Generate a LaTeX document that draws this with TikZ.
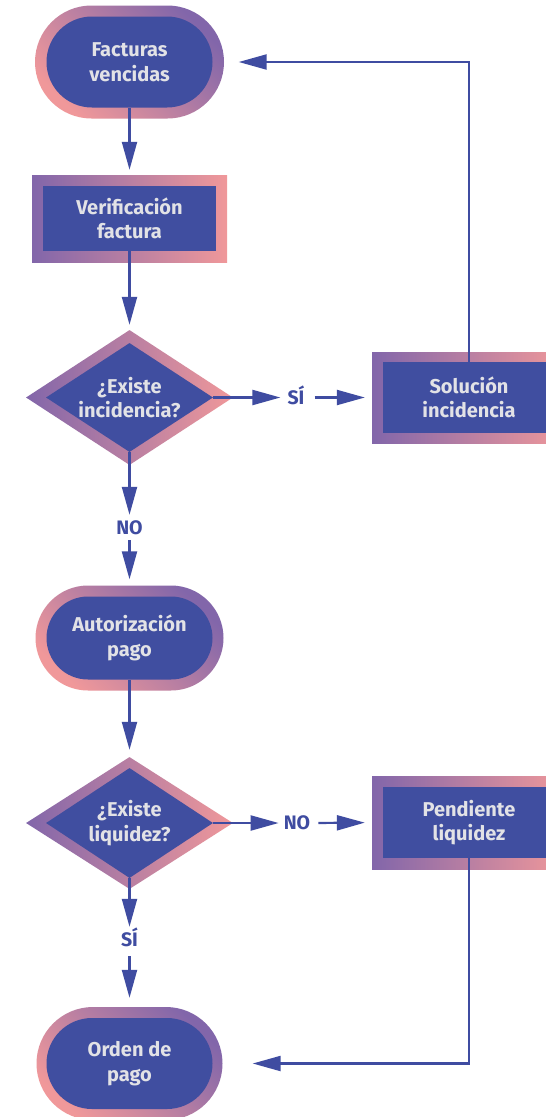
\documentclass[tikz,border=0pt]{standalone}
\usepackage{fontspec}
\setmainfont{Fira Sans}
\usetikzlibrary{shapes.geometric,arrows.meta}
\definecolor{boxblue}{HTML}{404EA0}
\definecolor{lineblue}{HTML}{3F4CA1}
\definecolor{purp}{HTML}{8266AA}
\definecolor{rosa}{HTML}{F0989A}
\definecolor{txt}{HTML}{E2E2E6}

\begin{document}
\begin{tikzpicture}[x=1pt,y=-1pt,
  txtstyle/.style={font=\fontsize{20}{24.5}\selectfont\bfseries, text=txt, align=center},
  pill/.style={rectangle, fill=boxblue, inner sep=0pt, txtstyle},
  pillrim/.style={rectangle, inner sep=0pt, top color=purp, bottom color=rosa, shading angle=-45},
  box/.style={rectangle, fill=boxblue, inner sep=0pt, txtstyle},
  boxrim/.style={rectangle, inner sep=0pt, left color=purp, right color=rosa},
  decision/.style={diamond, fill=boxblue, inner sep=0pt},
  decisionrim/.style={diamond, inner sep=0pt, left color=purp, right color=rosa},
  flow/.style={draw=lineblue, line width=2.2pt, -{Triangle[length=28pt,width=15pt]}},
  answer/.style={font=\fontsize{19.5}{22}\selectfont\bfseries, text=lineblue, inner sep=0pt,
                 text height=13pt, text depth=0pt}
]
\path[use as bounding box, fill=white] (0,0) rectangle (546,1117);

% start: invoices due
\node[pillrim, minimum width=189pt, minimum height=113pt, rounded corners=56.5pt] (f1rim) at (129.5,62) {};
\node[pill, minimum width=166pt, minimum height=91pt, rounded corners=45.5pt] (f1) at (129.5,62) {Facturas\\vencidas};

% check
\node[boxrim, minimum width=195pt, minimum height=87pt] (verrim) at (129.5,218.5) {};
\node[box, minimum width=173pt, minimum height=65pt] (ver) at (129.5,218.5) {Verificación\\factura};

% first decision
\node[decisionrim, minimum width=207pt, minimum height=135pt] (d1rim) at (129.5,397.5) {};
\node[decision, minimum width=167pt, minimum height=109pt,
      label={[txtstyle]center:{¿Existe\\incidencia?}}] (d1) at (129.5,397.5) {};

% fix the issue
\node[boxrim, minimum width=194pt, minimum height=91pt] (solrim) at (469,397.5) {};
\node[box, minimum width=172pt, minimum height=71pt] (sol) at (469,397.5) {Solución\\incidencia};

% authorisation
\node[pillrim, minimum width=188pt, minimum height=105pt, rounded corners=52.5pt] (autrim) at (129.5,638) {};
\node[pill, minimum width=166pt, minimum height=83pt, rounded corners=41.5pt] (aut) at (129.5,638) {Autorización\\pago};

% second decision
\node[decisionrim, minimum width=207pt, minimum height=132pt] (d2rim) at (129.5,823) {};
\node[decision, minimum width=167pt, minimum height=110pt,
      label={[txtstyle]center:{¿Existe\\liquidez?}}] (d2) at (129.5,823) {};

% pending
\node[boxrim, minimum width=194pt, minimum height=93pt] (penrim) at (469,822.5) {};
\node[box, minimum width=172pt, minimum height=71pt] (pen) at (469,822.5) {Pendiente\\liquidez};

% payment order
\node[pillrim, minimum width=186pt, minimum height=113pt, rounded corners=56.5pt] (ordrim) at (129.5,1063.5) {};
\node[pill, minimum width=166pt, minimum height=91pt, rounded corners=45.5pt] (ord) at (129.5,1063.5) {Orden de\\pago};

% branch labels
\node[answer] (l1) at (296,397.5) {SÍ};
\node[answer] (l2) at (129.5,528) {NO};
\node[answer] (l3) at (297,823) {NO};
\node[answer] (l4) at (129.5,940) {SÍ};

% connectors
\draw[flow, shorten >=16pt] (f1.south) -- (ver.north);
\draw[flow, shorten >=18pt] (ver.south) -- (d1.north);
\draw[flow, shorten >=7pt] (d1.east) -- (l1.west);
\draw[flow, shorten <=10pt, shorten >=18pt] (l1.east) -- (sol.west);
\draw[flow, shorten >=26pt] (sol.north) |- (f1.east);
\draw[flow, shorten >=6.5pt] (d1.south) -- (l2.north);
\draw[flow, shorten <=5.5pt, shorten >=17pt] (l2.south) -- (aut.north);
\draw[flow, shorten >=18pt] (aut.south) -- (d2.north);
\draw[flow, shorten >=5pt] (d2.east) -- (l3.west);
\draw[flow, shorten <=8pt, shorten >=18pt] (l3.east) -- (pen.west);
\draw[flow, shorten >=6.5pt] (d2.south) -- (l4.north);
\draw[flow, shorten <=9.5pt, shorten >=20pt] (l4.south) -- (ord.north);
\draw[flow, shorten >=40pt] (pen.south) |- (ord.east);
\end{tikzpicture}
\end{document}
